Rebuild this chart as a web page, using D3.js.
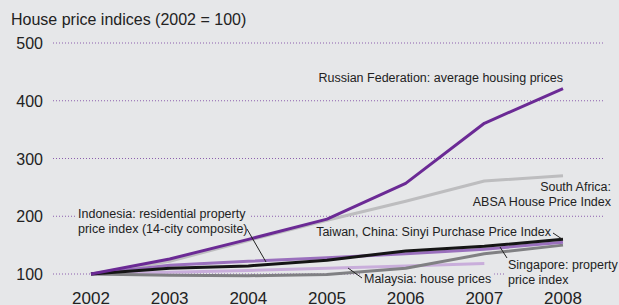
<!DOCTYPE html>
<html>
<head>
<meta charset="utf-8">
<script src="https://cdn.jsdelivr.net/npm/d3@7"></script>
<style>
  body { margin: 0; background: #e6e7e9; }
  svg text { font-family: "Liberation Sans", Arial, sans-serif; fill: #222; }
</style>
</head>
<body>
<div id="chart"></div>
<script>
var svgWidth = 619;
var svgHeight = 305;

var years = [2002, 2003, 2004, 2005, 2006, 2007, 2008];
var yTicks = [100, 200, 300, 400, 500];

// series values
var russia = [100, 126, 160, 195, 257, 361, 421];
var southAfrica = [100, 122, 158, 193, 226, 261, 270];
var taiwan = [100, 110, 114, 124, 140, 148, 160];
var indonesia = [100, 115, 122, 128, 135, 143, 155];
var singapore = [100, 98, 97, 99, 110, 135, 150];
var malaysia = [100, 103, 106, 110, 114, 118];

var series = [
  { name: "South Africa", values: southAfrica, color: "#bdbdbf" },
  { name: "Malaysia", values: malaysia, color: "#c9aedb" },
  { name: "Singapore", values: singapore, color: "#808083" },
  { name: "Indonesia", values: indonesia, color: "#9a70bd" },
  { name: "Taiwan", values: taiwan, color: "#151515" },
  { name: "Russia", values: russia, color: "#6b2a95" }
];

var svg = d3.select("#chart")
  .append("svg")
  .attr("width", svgWidth)
  .attr("height", svgHeight);

svg.append("rect")
  .attr("width", svgWidth)
  .attr("height", svgHeight)
  .attr("fill", "#e6e7e9");

var x = d3.scaleLinear().domain([2002, 2008]).range([91, 563]);
var y = d3.scaleLinear().domain([100, 500]).range([274, 43]);

// title
svg.append("text")
  .attr("x", 11)
  .attr("y", 25)
  .attr("font-size", 16)
  .text("House price indices (2002 = 100)");

// gridlines
svg.append("g").selectAll("line")
  .data(yTicks)
  .enter()
  .append("line")
  .attr("x1", 53)
  .attr("x2", 603)
  .attr("y1", d => y(d))
  .attr("y2", d => y(d))
  .attr("stroke", "#8c5fae")
  .attr("stroke-width", 1)
  .attr("stroke-dasharray", "1,2");

// y tick labels
svg.append("g").selectAll("text")
  .data(yTicks)
  .enter()
  .append("text")
  .attr("x", 43)
  .attr("y", d => y(d) + 6)
  .attr("text-anchor", "end")
  .attr("font-size", 16)
  .text(d => d);

// x tick labels
svg.append("g").selectAll("text")
  .data(years)
  .enter()
  .append("text")
  .attr("x", d => x(d))
  .attr("y", 304)
  .attr("text-anchor", "middle")
  .attr("font-size", 17)
  .text(d => d);

// annotations
var notes = [
  { lines: ["Russian Federation: average housing prices"], x: 563, y: 82, anchor: "end" },
  { lines: ["South Africa:", "ABSA House Price Index"], x: 611, y: 191, anchor: "end" },
  { lines: ["Taiwan, China: Sinyi Purchase Price Index"], x: 551, y: 236, anchor: "end" },
  { lines: ["Indonesia: residential property", "price index (14-city composite)"], x: 78, y: 218, anchor: "start" },
  { lines: ["Malaysia: house prices"], x: 364, y: 283, anchor: "start" },
  { lines: ["Singapore: property", "price index"], x: 508, y: 269, anchor: "start" }
];

var maskGroup = svg.append("g");

// lines
var line = d3.line()
  .x((d, i) => x(years[i]))
  .y(d => y(d));

svg.append("g").selectAll("path")
  .data(series)
  .enter()
  .append("path")
  .attr("d", d => line(d.values))
  .attr("fill", "none")
  .attr("stroke", d => d.color)
  .attr("stroke-width", 3)
  .attr("stroke-linejoin", "round");

// leader lines
var leaders = [
  [[247, 229], [266, 262]],
  [[553, 233], [562, 239]],
  [[348, 268], [362, 278]],
  [[500, 247], [507, 258]]
];
svg.append("g").selectAll("line")
  .data(leaders)
  .enter()
  .append("line")
  .attr("x1", d => d[0][0])
  .attr("y1", d => d[0][1])
  .attr("x2", d => d[1][0])
  .attr("y2", d => d[1][1])
  .attr("stroke", "#222")
  .attr("stroke-width", 1);

var noteTexts = svg.append("g").selectAll("text")
  .data(notes)
  .enter()
  .append("text")
  .attr("font-size", 12.5)
  .attr("text-anchor", d => d.anchor);

noteTexts.each(function (d) {
  var t = d3.select(this);
  d.lines.forEach(function (l, i) {
    t.append("tspan")
      .attr("x", d.x)
      .attr("y", d.y + i * 14.5)
      .text(l);
  });
});

// mask the gridlines behind annotation text
noteTexts.each(function () {
  var b = this.getBBox();
  maskGroup.append("rect")
    .attr("x", b.x - 3)
    .attr("y", b.y)
    .attr("width", b.width + 6)
    .attr("height", b.height)
    .attr("fill", "#e6e7e9");
});
</script>
</body>
</html>
